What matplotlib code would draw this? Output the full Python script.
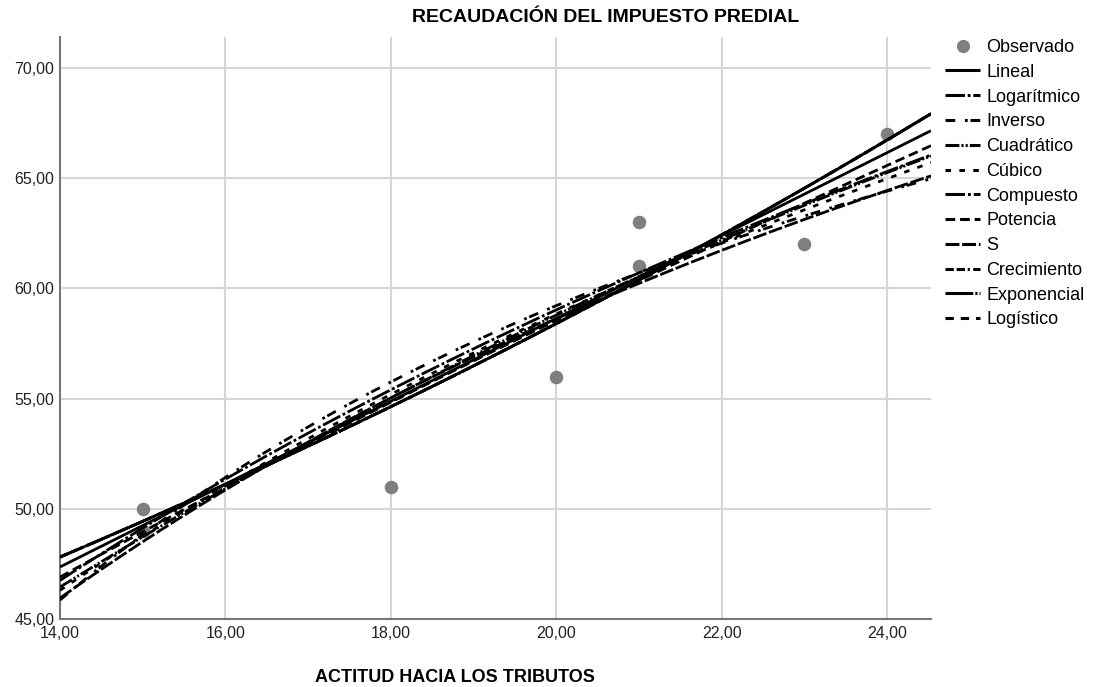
import numpy as np
import matplotlib
matplotlib.use("Agg")
import matplotlib.pyplot as plt
from matplotlib.lines import Line2D

plt.rcParams['font.family'] = ['Liberation Sans', 'DejaVu Sans']
plt.rcParams['lines.scale_dashes'] = False

# Observed data
obs_x = [15, 15, 18, 20, 21, 21, 23, 24]
obs_y = [50, 49, 51, 56, 63, 61, 62, 67]

model_names = ["Lineal", "Logarítmico", "Inverso", "Cuadrático", "Cúbico",
               "Compuesto", "Potencia", "S", "Crecimiento", "Exponencial",
               "Logístico"]
# dash patterns in points (None = solid)
model_dashes = [None, (14, 2, 2, 2), (7, 7, 2, 2), (10, 1.5, 1.5, 1.5, 1.5, 1.5),
                (4, 6), (14, 2.2, 2, 2.2), (7, 3.5), (10, 2),
                (6, 2, 6, 2, 1.5, 2.5), (20, 1.5, 1.5, 1.5), (6, 5)]

# fitted-curve values at the anchor x positions
anchor_x = {
    "Lineal": [14, 24.53], "Logarítmico": [14, 24.53], "Inverso": [14, 24.53],
    "Cuadrático": [14, 19, 24.53], "Cúbico": [14, 17.5, 21.5, 24.53],
    "Compuesto": [14, 24.53], "Potencia": [14, 24.53], "S": [14, 24.53],
    "Crecimiento": [14, 24.53], "Exponencial": [14, 24.53], "Logístico": [14, 24.53],
}
lineal_y = [47.36, 67.15]
logaritmico_y = [46.75, 66.05]
inverso_y = [45.86, 64.97]
cuadratico_y = [46.45, 56.95, 66.0]
cubico_y = [46.30, 54.2, 61.3, 65.70]
compuesto_y = [47.81, 67.92]
potencia_y = [46.90, 66.47]
s_y = [45.95, 65.10]
crecimiento_y = [47.81, 67.92]
exponencial_y = [47.81, 67.92]
logistico_y = [47.81, 67.92]
anchor_y = {
    "Lineal": lineal_y, "Logarítmico": logaritmico_y, "Inverso": inverso_y,
    "Cuadrático": cuadratico_y, "Cúbico": cubico_y, "Compuesto": compuesto_y,
    "Potencia": potencia_y, "S": s_y, "Crecimiento": crecimiento_y,
    "Exponencial": exponencial_y, "Logístico": logistico_y,
}

x_ticks = [14, 16, 18, 20, 22, 24]
y_ticks = [45, 50, 55, 60, 65, 70]
x_lim = (14, 24.53)
y_lim = (45, 71.4)

xs = np.linspace(x_lim[0], x_lim[1], 400)

# model forms: (transform of x, transform of y, inverse transform of y, degree)
ident = lambda v: v
forms = {
    "Lineal": (ident, ident, ident, 1),
    "Logarítmico": (np.log, ident, ident, 1),
    "Inverso": (lambda v: 1 / v, ident, ident, 1),
    "Cuadrático": (ident, ident, ident, 2),
    "Cúbico": (ident, ident, ident, 3),
    "Compuesto": (ident, np.log, np.exp, 1),
    "Potencia": (np.log, np.log, np.exp, 1),
    "S": (lambda v: 1 / v, np.log, np.exp, 1),
    "Crecimiento": (ident, np.log, np.exp, 1),
    "Exponencial": (ident, np.log, np.exp, 1),
    "Logístico": (ident, lambda v: np.log(1 / v), lambda v: 1 / np.exp(v), 1),
}


def curve(name):
    fx, fy, finv, deg = forms[name]
    ax_ = np.array(anchor_x[name], float)
    ay_ = np.array(anchor_y[name], float)
    coef = np.polyfit(fx(ax_), fy(ay_), deg)
    return finv(np.polyval(coef, fx(xs)))


fig = plt.figure(figsize=(11, 6.87), dpi=100)
ax = fig.add_axes([60 / 1100, 68 / 687, 871 / 1100, 582 / 687])

ax.set_xlim(*x_lim)
ax.set_ylim(*y_lim)
ax.set_xticks(x_ticks)
ax.set_yticks(y_ticks)
ax.set_xticklabels([f"{t:.2f}".replace('.', ',') for t in x_ticks], fontsize=11.5)
ax.set_yticklabels([f"{t:.2f}".replace('.', ',') for t in y_ticks], fontsize=11.5)
ax.tick_params(axis='y', length=0, pad=4, colors='#222222')
ax.tick_params(axis='x', length=0, pad=5, colors='#222222')
ax.grid(True, color='#d6d6d6', linewidth=1.5)
ax.set_axisbelow(True)
for s in ['top', 'right']:
    ax.spines[s].set_visible(False)
for s in ['left', 'bottom']:
    ax.spines[s].set_color('#777777')
    ax.spines[s].set_linewidth(1.5)

handles = []
ax.scatter(obs_x, obs_y, s=95, color='#7f7f7f', zorder=2, linewidths=0)
handles.append(Line2D([], [], marker='o', linestyle='none', color='#7f7f7f',
                      markersize=8.5, label='Observado'))

for name, d in zip(model_names, model_dashes):
    ln, = ax.plot(xs, curve(name), color='black', linewidth=2.0, zorder=3,
                  solid_capstyle='butt', dash_capstyle='butt')
    h = Line2D([], [], color='black', linewidth=2.2, label=name,
               dash_capstyle='butt', solid_capstyle='butt')
    if d is not None:
        ln.set_dashes(d)
        h.set_dashes(d)
    handles.append(h)

leg = fig.legend(handles=handles, loc='upper left',
                 bbox_to_anchor=(945 / 1100, 1 - 39 / 687), frameon=False,
                 fontsize=13, handlelength=1.95, handletextpad=0.35,
                 labelspacing=0.43, borderaxespad=0, borderpad=0)

fig.text(606 / 1100, 1 - 18 / 687, "RECAUDACIÓN DEL IMPUESTO PREDIAL",
         ha='center', va='center', fontsize=14, fontweight='bold')
fig.text(455 / 1100, 1 - 677 / 687, "ACTITUD HACIA LOS TRIBUTOS",
         ha='center', va='center', fontsize=13, fontweight='bold')

fig.savefig("out.png", dpi=100)
